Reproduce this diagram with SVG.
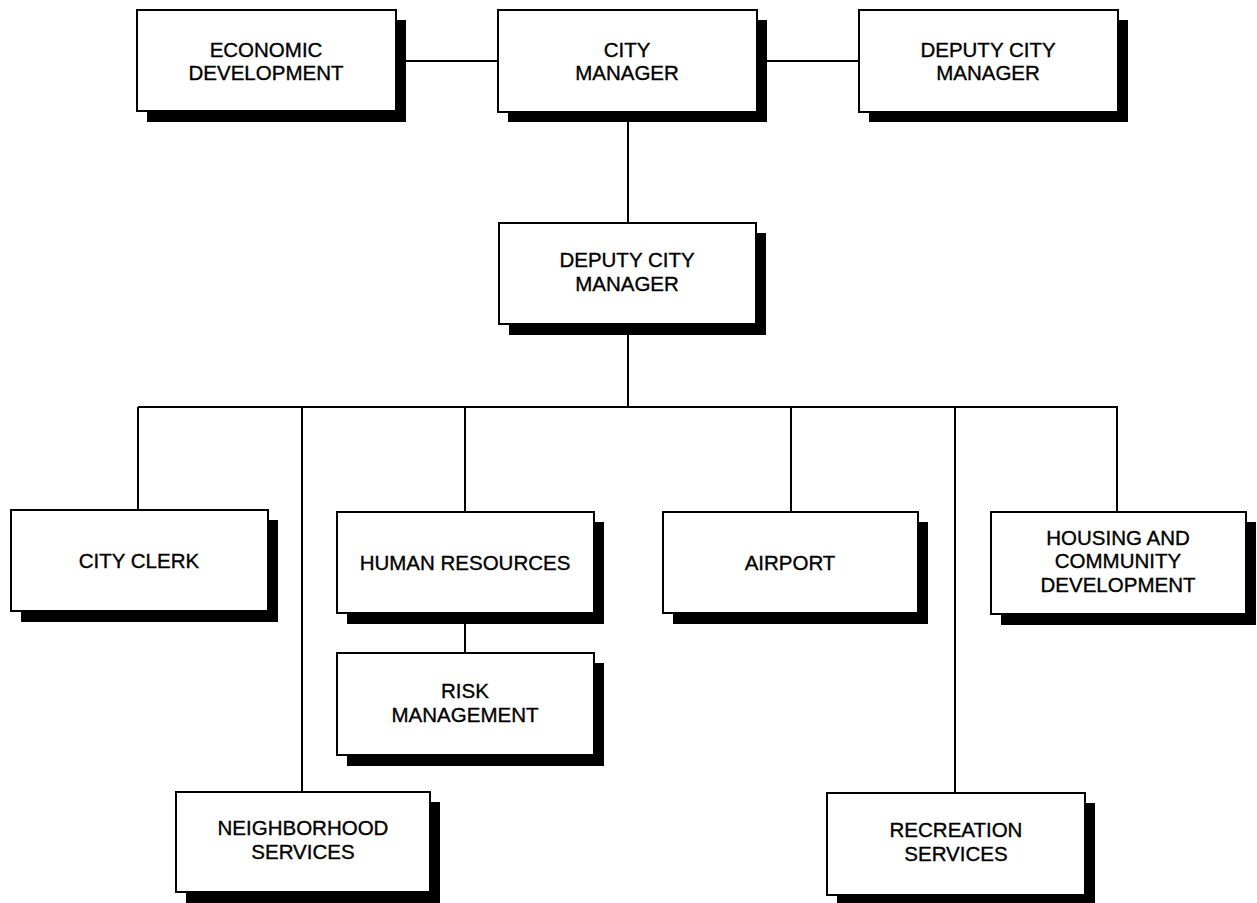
<svg xmlns="http://www.w3.org/2000/svg" width="1257" height="903" viewBox="0 0 1257 903">
  <style>
    .shadow { fill: #000; }
    .box { fill: #fff; stroke: #000; stroke-width: 2; }
    .link { fill: none; stroke: #000; stroke-width: 2; }
    .label { font-family: "Liberation Sans", Arial, sans-serif; font-size: 20.5px; fill: #000; stroke: #000; stroke-width: 0.35; text-anchor: middle; }
  </style>
  <rect width="1257" height="903" fill="#fff"/>

  <!-- connectors -->
  <g id="connectors">
    <path class="link" d="M396 61 H498 M757 61 H859"/>
    <path class="link" d="M628 112 V223"/>
    <path class="link" d="M628 324 V407"/>
    <path class="link" d="M138 407 H1118"/>
    <path class="link" d="M138 407 V510"/>
    <path class="link" d="M302 407 V792"/>
    <path class="link" d="M465 407 V512"/>
    <path class="link" d="M465 613 V653"/>
    <path class="link" d="M791 407 V512"/>
    <path class="link" d="M955 407 V793"/>
    <path class="link" d="M1117 407 V512"/>
  </g>

  <g id="economic-development">
    <rect class="shadow" x="147" y="20" width="259" height="102"/>
    <rect class="box" x="137" y="10" width="259" height="101"/>
    <text class="label" x="266" y="57">ECONOMIC</text>
    <text class="label" x="266" y="80">DEVELOPMENT</text>
  </g>

  <g id="city-manager">
    <rect class="shadow" x="508" y="20" width="259" height="102"/>
    <rect class="box" x="498" y="10" width="259" height="102"/>
    <text class="label" x="627" y="57">CITY</text>
    <text class="label" x="627" y="80">MANAGER</text>
  </g>

  <g id="deputy-city-manager-top">
    <rect class="shadow" x="869" y="20" width="259" height="102"/>
    <rect class="box" x="859" y="10" width="259" height="102"/>
    <text class="label" x="988" y="57">DEPUTY CITY</text>
    <text class="label" x="988" y="80">MANAGER</text>
  </g>

  <g id="deputy-city-manager">
    <rect class="shadow" x="509" y="233" width="257" height="102"/>
    <rect class="box" x="499" y="223" width="257" height="101"/>
    <text class="label" x="627" y="267">DEPUTY CITY</text>
    <text class="label" x="627" y="291">MANAGER</text>
  </g>

  <g id="city-clerk">
    <rect class="shadow" x="21" y="520" width="257" height="102"/>
    <rect class="box" x="11" y="510" width="257" height="101"/>
    <text class="label" x="139" y="568">CITY CLERK</text>
  </g>

  <g id="human-resources">
    <rect class="shadow" x="347" y="522" width="257" height="102"/>
    <rect class="box" x="337" y="512" width="257" height="101"/>
    <text class="label" x="465" y="570">HUMAN RESOURCES</text>
  </g>

  <g id="risk-management">
    <rect class="shadow" x="347" y="663" width="257" height="103"/>
    <rect class="box" x="337" y="653" width="257" height="102"/>
    <text class="label" x="465" y="698">RISK</text>
    <text class="label" x="465" y="722">MANAGEMENT</text>
  </g>

  <g id="airport">
    <rect class="shadow" x="673" y="522" width="255" height="102"/>
    <rect class="box" x="663" y="512" width="255" height="101"/>
    <text class="label" x="790" y="570">AIRPORT</text>
  </g>

  <g id="housing-community-development">
    <rect class="shadow" x="1001" y="522" width="255" height="103"/>
    <rect class="box" x="991" y="512" width="255" height="102"/>
    <text class="label" x="1118" y="545">HOUSING AND</text>
    <text class="label" x="1118" y="568">COMMUNITY</text>
    <text class="label" x="1118" y="592">DEVELOPMENT</text>
  </g>

  <g id="neighborhood-services">
    <rect class="shadow" x="186" y="802" width="254" height="101"/>
    <rect class="box" x="176" y="792" width="254" height="100"/>
    <text class="label" x="303" y="835">NEIGHBORHOOD</text>
    <text class="label" x="303" y="859">SERVICES</text>
  </g>

  <g id="recreation-services">
    <rect class="shadow" x="837" y="803" width="258" height="100"/>
    <rect class="box" x="827" y="793" width="258" height="102"/>
    <text class="label" x="956" y="837">RECREATION</text>
    <text class="label" x="956" y="861">SERVICES</text>
  </g>
</svg>
